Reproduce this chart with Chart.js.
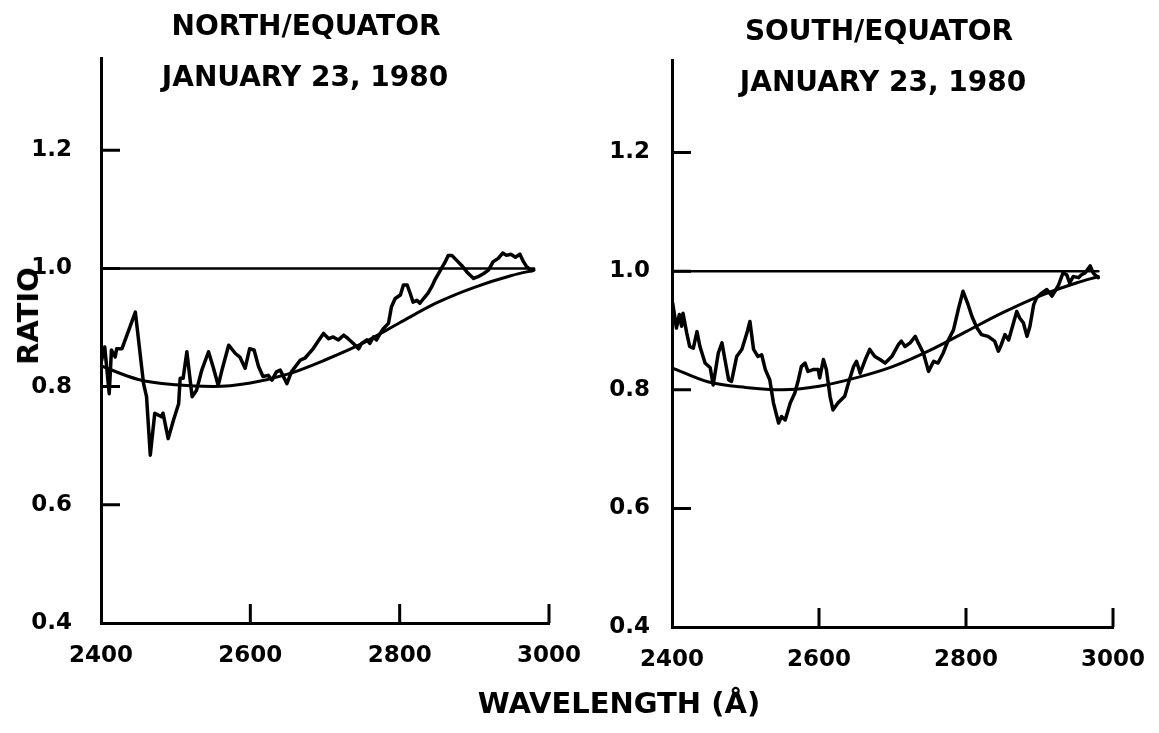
<!DOCTYPE html>
<html>
<head>
<meta charset="utf-8">
<script src="https://cdn.jsdelivr.net/npm/chart.js@4"></script>
<style>
html, body { margin: 0; padding: 0; background: #fff; }
#page { position: relative; width: 1159px; height: 733px; overflow: hidden;
        font-family: "DejaVu Sans", sans-serif; font-weight: bold; color: #000; }
#page canvas { position: absolute; top: 0; }
.lbl { position: absolute; transform: translate(-50%, -50%); white-space: nowrap; }
</style>
</head>
<body>
<div id="page">
  <canvas id="north" width="580" height="733" style="left:0px"></canvas>
  <canvas id="south" width="579" height="733" style="left:580px"></canvas>
  <div class="lbl" style="left:306px; top:25px; font-size:28px">NORTH/EQUATOR</div>
  <div class="lbl" style="left:305px; top:76px; font-size:28px">JANUARY 23, 1980</div>
  <div class="lbl" style="left:879px; top:30px; font-size:28px">SOUTH/EQUATOR</div>
  <div class="lbl" style="left:883px; top:81px; font-size:28px">JANUARY 23, 1980</div>
  <div class="lbl" style="left:28px; top:316px; font-size:29px; transform:translate(-50%,-50%) rotate(-90deg)">RATIO</div>
  <div class="lbl" style="left:619px; top:703px; font-size:29px">WAVELENGTH (Å)</div>
</div>
<script>
// tick labels
const xTicks = [2400, 2600, 2800, 3000];
const yTicks = [0.4, 0.6, 0.8, 1.0, 1.2];

// north / equator, measured spectrum ratio
const northWave = [2400, 2405, 2411, 2414, 2419, 2421, 2428, 2446, 2457, 2461, 2466, 2472, 2481, 2483, 2490,
  2497, 2504, 2506, 2510, 2515, 2522, 2528, 2535, 2544, 2550, 2557, 2562, 2571, 2580, 2586, 2593, 2599, 2605,
  2611, 2617, 2624, 2629, 2635, 2640, 2649, 2655, 2667, 2673, 2684, 2693, 2698, 2705, 2711, 2718, 2725, 2731,
  2738, 2745, 2749, 2756, 2760, 2765, 2769, 2774, 2778, 2785, 2789, 2794, 2801, 2805, 2810, 2814, 2818, 2823,
  2827, 2832, 2838, 2843, 2847, 2852, 2856, 2861, 2865, 2870, 2876, 2883, 2890, 2899, 2905, 2912, 2919, 2925,
  2932, 2938, 2943, 2949, 2955, 2961, 2966, 2970, 2977];
const northRatio = [0.840, 0.867, 0.788, 0.862, 0.850, 0.864, 0.864, 0.926, 0.805, 0.783, 0.684, 0.755, 0.749, 0.755, 0.712,
  0.743, 0.771, 0.814, 0.814, 0.859, 0.783, 0.794, 0.828, 0.859, 0.834, 0.802, 0.828, 0.870, 0.856, 0.850, 0.831, 0.864, 0.862,
  0.834, 0.817, 0.819, 0.811, 0.825, 0.828, 0.805, 0.825, 0.845, 0.848, 0.864, 0.881, 0.890, 0.881, 0.884, 0.879, 0.887, 0.881,
  0.873, 0.864, 0.873, 0.879, 0.873, 0.884, 0.879, 0.890, 0.898, 0.907, 0.935, 0.949, 0.955, 0.972, 0.972, 0.958, 0.943, 0.946,
  0.941, 0.949, 0.958, 0.969, 0.980, 0.991, 1.000, 1.011, 1.022, 1.022, 1.014, 1.005, 0.994, 0.983, 0.986, 0.991, 0.997, 1.011,
  1.017, 1.026, 1.022, 1.024, 1.019, 1.024, 1.011, 1.003, 0.996];
// north / equator, smooth fit
const northFitWave = [2400, 2450, 2500, 2550, 2600, 2650, 2700, 2750, 2800, 2850, 2900, 2950, 2980];
const northFit = [0.835, 0.812, 0.803, 0.800, 0.806, 0.821, 0.845, 0.873, 0.908, 0.942, 0.968, 0.988, 0.997];

// south / equator, measured spectrum ratio
const southWave = [2401, 2406, 2410, 2413, 2415, 2420, 2424, 2429, 2434, 2438, 2445, 2452, 2456, 2463, 2468,
  2472, 2477, 2481, 2488, 2495, 2502, 2506, 2511, 2517, 2522, 2527, 2533, 2538, 2545, 2549, 2554, 2561, 2567,
  2572, 2576, 2581, 2585, 2592, 2599, 2601, 2606, 2610, 2615, 2619, 2626, 2635, 2640, 2647, 2651, 2656, 2663,
  2669, 2676, 2683, 2690, 2699, 2708, 2712, 2717, 2724, 2731, 2735, 2742, 2749, 2756, 2762, 2769, 2776, 2783,
  2790, 2796, 2803, 2808, 2815, 2821, 2830, 2839, 2844, 2848, 2853, 2858, 2864, 2869, 2873, 2878, 2883, 2887,
  2892, 2896, 2903, 2910, 2917, 2921, 2926, 2932, 2937, 2941, 2946, 2953, 2957, 2962, 2969, 2973, 2980];
const southRatio = [0.946, 0.904, 0.927, 0.907, 0.929, 0.896, 0.873, 0.870, 0.898, 0.873, 0.845, 0.837, 0.808, 0.862, 0.879,
  0.851, 0.817, 0.814, 0.856, 0.868, 0.896, 0.915, 0.868, 0.856, 0.859, 0.834, 0.817, 0.778, 0.744, 0.755, 0.749, 0.778, 0.794,
  0.817, 0.839, 0.845, 0.831, 0.834, 0.834, 0.820, 0.851, 0.834, 0.789, 0.766, 0.778, 0.789, 0.811, 0.839, 0.848, 0.828, 0.851,
  0.868, 0.856, 0.851, 0.845, 0.856, 0.876, 0.882, 0.873, 0.879, 0.890, 0.879, 0.862, 0.831, 0.848, 0.845, 0.862, 0.884, 0.901,
  0.938, 0.966, 0.943, 0.924, 0.904, 0.893, 0.890, 0.882, 0.865, 0.876, 0.893, 0.884, 0.910, 0.932, 0.921, 0.913, 0.890, 0.907,
  0.943, 0.955, 0.963, 0.969, 0.958, 0.966, 0.977, 0.997, 0.994, 0.980, 0.991, 0.989, 0.994, 0.997, 1.009, 0.997, 0.989];
// south / equator, smooth fit
const southFitWave = [2400, 2450, 2500, 2550, 2600, 2650, 2700, 2750, 2800, 2850, 2900, 2950, 2980];
const southFit = [0.837, 0.813, 0.804, 0.800, 0.806, 0.820, 0.839, 0.866, 0.898, 0.930, 0.958, 0.980, 0.991];

// ratio = 1 reference line
const refWave = [2400, 2980];
const refRatio = [1.0, 1.0];

const pts = (xs, ys) => xs.map((x, i) => ({ x, y: ys[i] }));

// tick marks drawn inward from the axes, as on the original plot
const innerTicks = {
    id: 'innerTicks',
    afterDatasetsDraw(chart, args, opts) {
        const { ctx, chartArea, scales } = chart;
        ctx.save();
        ctx.strokeStyle = '#000';
        ctx.lineWidth = 3;
        ctx.beginPath();
        yTicks.slice(1).forEach(v => {
            const py = scales.y.getPixelForValue(v);
            ctx.moveTo(chartArea.left, py);
            ctx.lineTo(chartArea.left + opts.len, py);
        });
        xTicks.slice(1).forEach(v => {
            const px = scales.x.getPixelForValue(v);
            ctx.moveTo(px, chartArea.bottom);
            ctx.lineTo(px, chartArea.bottom - opts.len);
        });
        ctx.stroke();
        ctx.restore();
    }
};

const tickFont = { family: '"DejaVu Sans", sans-serif', weight: 'bold', size: 23 };

function makePanel(id, wave, ratio, fitWave, fit, box) {
    const ctx = document.getElementById(id).getContext('2d');
    return new Chart(ctx, {
        type: 'line',
        data: {
            datasets: [
                { data: pts(refWave, refRatio), borderColor: '#000', borderWidth: 2.5 },
                { data: pts(fitWave, fit), borderColor: '#000', borderWidth: 3, cubicInterpolationMode: 'monotone' },
                { data: pts(wave, ratio), borderColor: '#000', borderWidth: 3.5, tension: 0 }
            ]
        },
        options: {
            responsive: false,
            animation: false,
            events: [],
            elements: { point: { radius: 0 }, line: { borderJoinStyle: 'round', borderCapStyle: 'round' } },
            layout: { padding: { top: box.top, right: box.right, bottom: 0, left: 0 } },
            plugins: { legend: false, tooltip: false, title: false, innerTicks: { len: 19 } },
            scales: {
                x: {
                    type: 'linear', min: 2400, max: 3000,
                    afterBuildTicks: s => { s.ticks = xTicks.map(v => ({ value: v })); },
                    afterFit: s => { s.height = box.xh; s.paddingLeft = 0; s.paddingRight = 0; },
                    grid: { display: false, drawTicks: false },
                    border: { display: true, width: 3, color: '#000' },
                    ticks: { color: '#000', font: tickFont, padding: 19, maxRotation: 0, callback: v => String(v) }
                },
                y: {
                    type: 'linear', min: 0.4, max: 1.356,
                    afterBuildTicks: s => { s.ticks = yTicks.map(v => ({ value: v })); },
                    afterFit: s => { s.width = box.yw; s.paddingTop = 0; s.paddingBottom = 0; },
                    grid: { display: false, drawTicks: false },
                    border: { display: true, width: 3, color: '#000' },
                    ticks: { color: '#000', font: tickFont, padding: box.lp, callback: v => v.toFixed(1) }
                }
            }
        },
        plugins: [innerTicks]
    });
}

makePanel('north', northWave, northRatio, northFitWave, northFit, { top: 58, right: 31, xh: 110, yw: 101, lp: 29 });
makePanel('south', southWave, southRatio, southFitWave, southFit, { top: 60, right: 46, xh: 106, yw: 92, lp: 22 });
</script>
</body>
</html>
